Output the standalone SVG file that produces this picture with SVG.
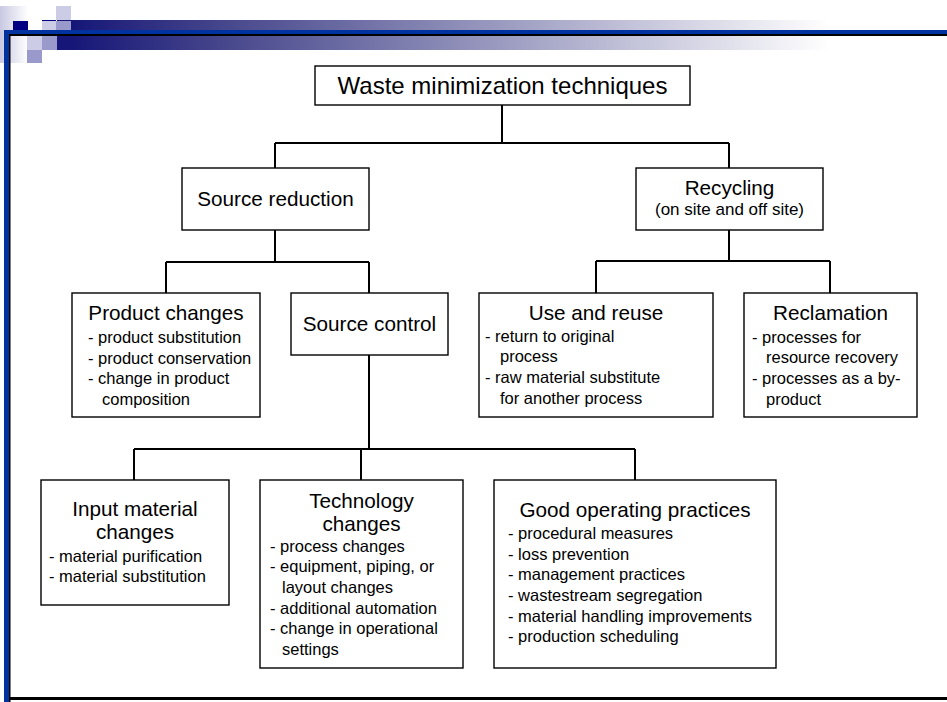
<svg xmlns="http://www.w3.org/2000/svg" width="947" height="702" viewBox="0 0 947 702">
<style>
  .box { fill: #ffffff; stroke: #000000; stroke-width: 1.4; }
  .t { font-family: "Liberation Sans", Arial, sans-serif; fill: #000000; }
  .root { font-size: 24px; text-anchor: middle; }
  .ttl { font-size: 20.7px; text-anchor: middle; }
  .sub { font-size: 17px; text-anchor: middle; }
  .it { font-size: 16.5px; }
  .conn path { fill: none; stroke: #000000; stroke-width: 2; }
</style>
<defs>
  <linearGradient id="band" x1="71" y1="0" x2="830" y2="0" gradientUnits="userSpaceOnUse">
    <stop offset="0" stop-color="#161678"/>
    <stop offset="0.2" stop-color="#46468c"/>
    <stop offset="1" stop-color="#ffffff"/>
  </linearGradient>
  <linearGradient id="side" x1="0" y1="0" x2="1" y2="0">
    <stop offset="0" stop-color="#c8c8e2"/>
    <stop offset="1" stop-color="#ffffff"/>
  </linearGradient>
</defs>
<rect width="947" height="702" fill="#ffffff"/>
<g id="header">
  <rect x="0" y="6" width="28" height="57" fill="url(#side)"/>
  <rect x="57" y="20" width="890" height="30" fill="url(#band)"/>
  <rect x="13" y="21" width="15" height="9" fill="#000080"/>
  <rect x="56" y="6" width="15" height="14" fill="#ccccE6"/>
  <rect x="42" y="20" width="14" height="1.2" fill="#000080"/>
  <rect x="42" y="21" width="14" height="9" fill="#ccccE6"/>
  <rect x="56" y="21" width="15" height="9" fill="#9999cc"/>
  <rect x="27" y="36" width="15" height="14" fill="#ccccE6"/>
  <rect x="42" y="36" width="15" height="14" fill="#9999cc"/>
  <rect x="27" y="50" width="15" height="13" fill="#9999cc"/>
</g>
<g id="frame">
  <rect x="4" y="30" width="943" height="4" fill="#0033a0"/>
  <rect x="9" y="34" width="938" height="2" fill="#000000"/>
  <rect x="4" y="30" width="5" height="672" fill="#0033a0"/>
  <rect x="9" y="34" width="1.5" height="668" fill="#000000"/>
  <rect x="9" y="697" width="938" height="3" fill="#000000"/>
</g>
<g id="connectors" class="conn">
  <path d="M502,105 V143 M275,143 H729 M275,143 V168 M729,143 V168"/>
  <path d="M275,230 V262 M166,262 H369 M166,262 V293 M369,262 V293"/>
  <path d="M729,230 V261 M596,261 H830 M596,261 V293 M830,261 V293"/>
  <path d="M369,355 V449 M134,449 H635 M134,449 V480 M361,449 V480 M635,449 V480"/>
</g>
<g id="root">
  <rect class="box" x="315" y="66" width="375" height="39"/>
  <text class="t root" x="502.5" y="94">Waste minimization techniques</text>
</g>
<g id="source-reduction">
  <rect class="box" x="182" y="168" width="187" height="62"/>
  <text class="t ttl" x="275.5" y="206">Source reduction</text>
</g>
<g id="recycling">
  <rect class="box" x="636" y="168" width="187" height="62"/>
  <text class="t ttl" x="729.5" y="195">Recycling</text>
  <text class="t sub" x="729.5" y="215">(on site and off site)</text>
</g>
<g id="product-changes">
  <rect class="box" x="72" y="293" width="188" height="124"/>
  <text class="t ttl" x="166" y="320">Product changes</text>
  <text class="t it" x="88" y="343">- product substitution</text>
  <text class="t it" x="88" y="363.7">- product conservation</text>
  <text class="t it" x="88" y="384.4">- change in product</text>
  <text class="t it" x="102" y="405">composition</text>
</g>
<g id="source-control">
  <rect class="box" x="291" y="293" width="157" height="62"/>
  <text class="t ttl" x="369.5" y="331">Source control</text>
</g>
<g id="use-and-reuse">
  <rect class="box" x="479" y="293" width="234" height="124"/>
  <text class="t ttl" x="596" y="320">Use and reuse</text>
  <text class="t it" x="485" y="341.7">- return to original</text>
  <text class="t it" x="500" y="362.3">process</text>
  <text class="t it" x="485" y="383">- raw material substitute</text>
  <text class="t it" x="500" y="403.7">for another process</text>
</g>
<g id="reclamation">
  <rect class="box" x="744" y="293" width="173" height="124"/>
  <text class="t ttl" x="830.5" y="320">Reclamation</text>
  <text class="t it" x="752" y="342.7">- processes for</text>
  <text class="t it" x="766" y="363.3">resource recovery</text>
  <text class="t it" x="752" y="384">- processes as a by-</text>
  <text class="t it" x="766" y="404.7">product</text>
</g>
<g id="input-material-changes">
  <rect class="box" x="41" y="480" width="188" height="125"/>
  <text class="t ttl" x="135" y="516">Input material</text>
  <text class="t ttl" x="135" y="539">changes</text>
  <text class="t it" x="49" y="561.7">- material purification</text>
  <text class="t it" x="49" y="582.3">- material substitution</text>
</g>
<g id="technology-changes">
  <rect class="box" x="260" y="480" width="203" height="188"/>
  <text class="t ttl" x="361.5" y="507.7">Technology</text>
  <text class="t ttl" x="361.5" y="530.7">changes</text>
  <text class="t it" x="270" y="551.7">- process changes</text>
  <text class="t it" x="270" y="572.3">- equipment, piping, or</text>
  <text class="t it" x="282" y="593">layout changes</text>
  <text class="t it" x="270" y="613.7">- additional automation</text>
  <text class="t it" x="270" y="634.3">- change in operational</text>
  <text class="t it" x="282" y="655">settings</text>
</g>
<g id="good-operating-practices">
  <rect class="box" x="494" y="480" width="282" height="188"/>
  <text class="t ttl" x="635" y="517">Good operating practices</text>
  <text class="t it" x="508" y="539">- procedural measures</text>
  <text class="t it" x="508" y="559.7">- loss prevention</text>
  <text class="t it" x="508" y="580.3">- management practices</text>
  <text class="t it" x="508" y="601">- wastestream segregation</text>
  <text class="t it" x="508" y="621.7">- material handling improvements</text>
  <text class="t it" x="508" y="642.3">- production scheduling</text>
</g>
</svg>
